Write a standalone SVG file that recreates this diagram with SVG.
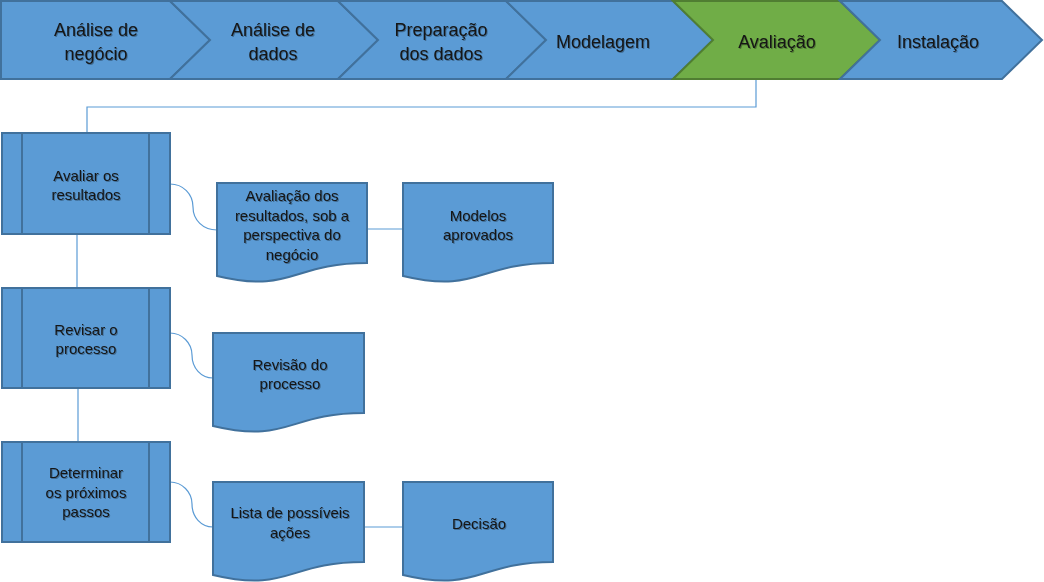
<svg xmlns="http://www.w3.org/2000/svg" width="1044" height="582" viewBox="0 0 1044 582">
<defs>
<filter id="ts" x="-10%" y="-10%" width="130%" height="140%">
<feDropShadow dx="1" dy="1" stdDeviation="0.6" flood-color="#000" flood-opacity="0.3"/>
</filter>
</defs>
<style>
.blue{fill:#5b9bd5;stroke:#41719c;stroke-width:2}
.green{fill:#70ad47;stroke:#507e32;stroke-width:2}
.in{fill:none;stroke:#41719c;stroke-width:2}
.con{fill:none;stroke:#5b9bd5;stroke-width:1.2}
text{font-family:"Liberation Sans",Arial,sans-serif;fill:#141414;text-anchor:middle;filter:url(#ts)}
.big{font-size:18px}
.sm{font-size:15px}
</style>
<rect width="1044" height="582" fill="#fff"/>
<g id="connectors">
<path class="con" d="M756,80 V107 H87 V133"/>
<path class="con" d="M77,234 V288"/>
<path class="con" d="M78,388 V442"/>
<path class="con" d="M170,184 C183,184 193,194 193,207 C193,220 203,230 217,230"/>
<path class="con" d="M170,333 C182,333 192,343 192,355 C192,368 201,378 213,378"/>
<path class="con" d="M170,482 C182,482 192,492 192,504 C192,517 201,527 213,527"/>
<path class="con" d="M367,229 H403"/>
<path class="con" d="M364,527 H403"/>
</g>
<g id="stage1">
<path class="blue" d="M1,1 H170 L210,40 L170,79 H1 Z"/>
<text class="big" x="96" y="36">Análise de</text>
<text class="big" x="96" y="60">negócio</text>
</g>
<g id="stage2">
<path class="blue" d="M170,1 H338 L378,40 L338,79 H170 L210,40 Z"/>
<text class="big" x="273" y="36">Análise de</text>
<text class="big" x="273" y="60">dados</text>
</g>
<g id="stage3">
<path class="blue" d="M338,1 H506 L546,40 L506,79 H338 L378,40 Z"/>
<text class="big" x="441" y="36">Preparação</text>
<text class="big" x="441" y="60">dos dados</text>
</g>
<g id="stage4">
<path class="blue" d="M506,1 H673 L713,40 L673,79 H506 L546,40 Z"/>
<text class="big" x="603" y="48">Modelagem</text>
</g>
<g id="stage5">
<path class="green" d="M673,1 H840 L880,40 L840,79 H673 L713,40 Z"/>
<text class="big" x="777" y="48">Avaliação</text>
</g>
<g id="stage6">
<path class="blue" d="M840,1 H1002 L1042,40 L1002,79 H840 L880,40 Z"/>
<text class="big" x="938" y="48">Instalação</text>
</g>
<g id="task1">
<rect class="blue" x="2" y="133" width="168" height="101"/>
<path class="in" d="M22,133 V234 M149,133 V234"/>
<text class="sm" x="86" y="181">Avaliar os</text>
<text class="sm" x="86" y="200">resultados</text>
</g>
<g id="task2">
<rect class="blue" x="2" y="288" width="168" height="100"/>
<path class="in" d="M22,288 V388 M149,288 V388"/>
<text class="sm" x="86" y="335">Revisar o</text>
<text class="sm" x="86" y="354">processo</text>
</g>
<g id="task3">
<rect class="blue" x="2" y="442" width="168" height="100"/>
<path class="in" d="M22,442 V542 M149,442 V542"/>
<text class="sm" x="86" y="478">Determinar</text>
<text class="sm" x="86" y="498">os próximos</text>
<text class="sm" x="86" y="517">passos</text>
</g>
<g id="doc1">
<path class="blue" d="M217,183 H367 V263 C292,263 292,294 217,276 Z"/>
<text class="sm" x="292" y="201">Avaliação dos</text>
<text class="sm" x="292" y="221">resultados, sob a</text>
<text class="sm" x="292" y="240">perspectiva do</text>
<text class="sm" x="292" y="260">negócio</text>
</g>
<g id="doc2">
<path class="blue" d="M403,183 H553 V263 C478,263 478,294 403,276 Z"/>
<text class="sm" x="478" y="221">Modelos</text>
<text class="sm" x="478" y="240">aprovados</text>
</g>
<g id="doc3">
<path class="blue" d="M213,333 H364 V413 C288,413 288,444 213,426 Z"/>
<text class="sm" x="290" y="370">Revisão do</text>
<text class="sm" x="290" y="389">processo</text>
</g>
<g id="doc4">
<path class="blue" d="M213,482 H364 V562 C288,562 288,593 213,575 Z"/>
<text class="sm" x="290" y="518">Lista de possíveis</text>
<text class="sm" x="290" y="538">ações</text>
</g>
<g id="doc5">
<path class="blue" d="M403,482 H553 V562 C478,562 478,593 403,575 Z"/>
<text class="sm" x="479" y="529">Decisão</text>
</g>
</svg>
